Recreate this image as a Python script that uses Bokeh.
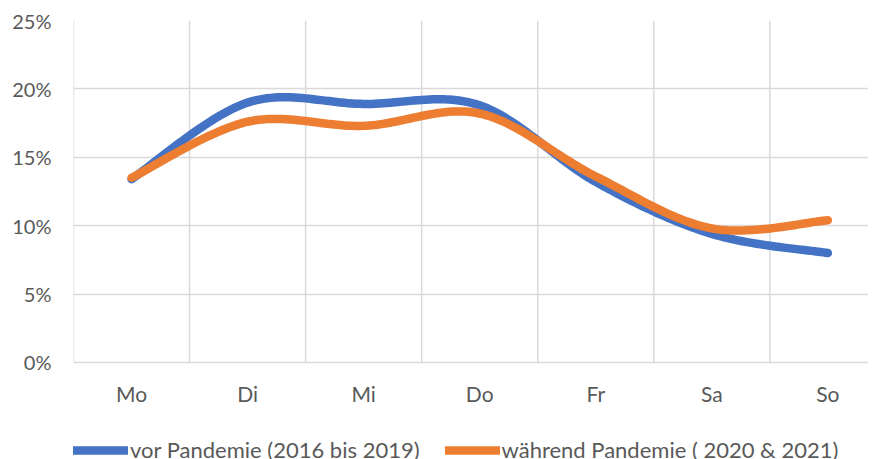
import numpy as np
from bokeh.plotting import figure
from bokeh.models import Range1d, FixedTicker, Legend, LegendItem, NumeralTickFormatter
from bokeh.embed import file_html
from bokeh.resources import INLINE

days = ["Mo", "Di", "Mi", "Do", "Fr", "Sa", "So"]
vor = [0.134, 0.190, 0.189, 0.188, 0.132, 0.094, 0.080]
waehrend = [0.135, 0.176, 0.173, 0.182, 0.136, 0.098, 0.104]
y_ticks = [0, 0.05, 0.10, 0.15, 0.20, 0.25]

def smooth(xs, ys, n=30):
    # Bezier smoothing through the data points (Excel-like)
    xs = np.asarray(xs, float); ys = np.asarray(ys, float)
    px, py = [], []
    m = len(xs)
    for i in range(m - 1):
        x0, y0 = xs[max(i - 1, 0)], ys[max(i - 1, 0)]
        x1, y1 = xs[i], ys[i]
        x2, y2 = xs[i + 1], ys[i + 1]
        x3, y3 = xs[min(i + 2, m - 1)], ys[min(i + 2, m - 1)]
        c1x, c1y = x1 + (x2 - x0) / 6, y1 + (y2 - y0) / 6
        c2x, c2y = x2 - (x3 - x1) / 6, y2 - (y3 - y1) / 6
        t = np.linspace(0, 1, n, endpoint=(i == m - 2))
        a = (1 - t) ** 3; b = 3 * (1 - t) ** 2 * t; c = 3 * (1 - t) * t ** 2; d = t ** 3
        px.extend(a * x1 + b * c1x + c * c2x + d * x2)
        py.extend(a * y1 + b * c1y + c * c2y + d * y2)
    return px, py

xs = list(range(len(days)))
y_min, y_max = y_ticks[0], y_ticks[-1]

# frame extends below 0% so the legend can sit inside it (bottom area)
p = figure(frame_width=795, frame_height=445, output_backend="svg", toolbar_location=None,
           x_range=Range1d(-0.5, 6.35), y_range=Range1d(-0.0753, y_max))
p.min_border_left = 73
p.min_border_right = 0
p.min_border_top = 20
p.min_border_bottom = 0
p.outline_line_color = None
p.background_fill_color = "white"
p.border_fill_color = "white"

FONT = "Lato"
LBL = "#595959"
GRID = "#d9d9d9"

p.yaxis.ticker = FixedTicker(ticks=y_ticks)
p.yaxis.formatter = NumeralTickFormatter(format="0%")
p.xaxis.ticker = FixedTicker(ticks=xs)
p.xaxis.major_label_overrides = {i: d for i, d in enumerate(days)}
p.xaxis.fixed_location = 0
for ax in (p.xaxis[0], p.yaxis[0]):
    ax.axis_line_color = None
    ax.major_tick_line_color = None
    ax.minor_tick_line_color = None
    ax.major_tick_out = 0
    ax.major_tick_in = 0
    ax.minor_tick_out = 0
    ax.minor_tick_in = 0
    ax.axis_label_standoff = 0
    ax.major_label_text_font = FONT
    ax.major_label_text_color = LBL
p.yaxis.major_label_text_font_size = "20px"
p.xaxis.major_label_text_font_size = "21px"
p.yaxis.major_label_standoff = 22
p.xaxis.major_label_standoff = 19

p.ygrid.ticker = FixedTicker(ticks=y_ticks)
p.ygrid.grid_line_color = GRID
p.ygrid.grid_line_width = 1.5
p.xgrid.grid_line_color = None

# vertical category-boundary gridlines, limited to the 0%..25% value range
bounds_x = [i - 0.5 for i in range(len(days) + 1)]
p.segment(x0=bounds_x, y0=[y_min] * len(bounds_x), x1=bounds_x, y1=[y_max] * len(bounds_x),
          line_color=GRID, line_width=1.5)

bx, by = smooth(xs, vor)
ox, oy = smooth(xs, waehrend)
r1 = p.line(bx, by, line_color="#4472C4", line_width=8.5, line_cap="round", line_join="round")
r2 = p.line(ox, oy, line_color="#ED7D31", line_width=8.5, line_cap="round", line_join="round")

legend = Legend(items=[LegendItem(label="vor Pandemie (2016 bis 2019)", renderers=[r1]),
                       LegendItem(label="während Pandemie ( 2020 & 2021)", renderers=[r2])],
                orientation="horizontal", location=(0, 2),
                label_text_font=FONT, label_text_font_size="22px", label_text_color=LBL,
                glyph_width=55, glyph_height=20, label_height=20, label_standoff=2, spacing=25,
                border_line_color=None, background_fill_alpha=0,
                padding=0, margin=0)
p.add_layout(legend, "center")

open("out.html", "w").write(file_html(p, INLINE))
